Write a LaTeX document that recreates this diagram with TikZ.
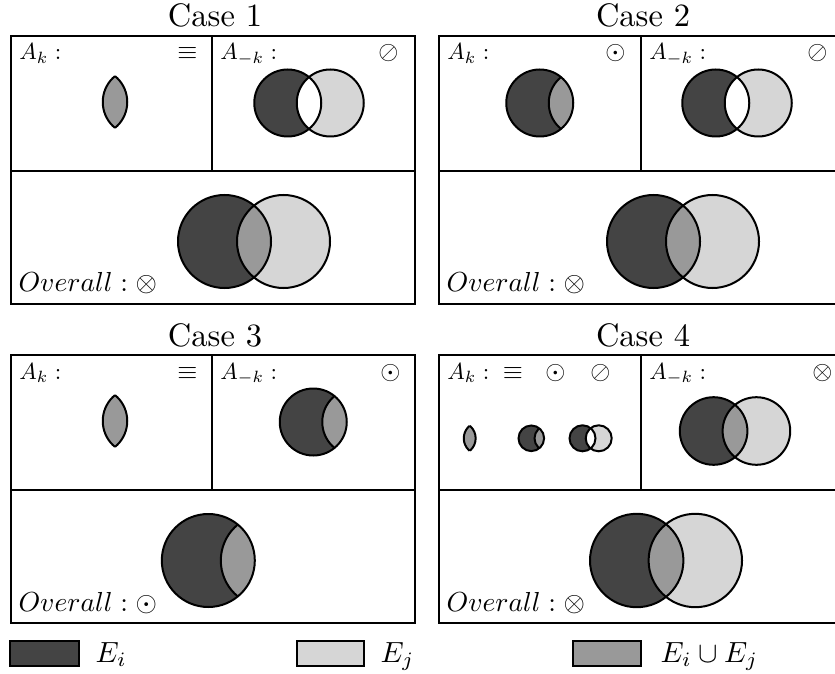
\documentclass[tikz,border=0pt]{standalone}
\definecolor{dk}{HTML}{444444}
\definecolor{lt}{HTML}{D6D6D6}
\definecolor{md}{HTML}{999999}
\tikzset{
  vl/.style={line width=1.2pt, draw=black},
  frame/.style={line width=1.2pt},
  divl/.style={line width=0.8pt},
  lbl/.style={inner sep=0pt, scale=1.4},
  sym/.style={inner sep=0pt, scale=1.55},
  ovl/.style={inner sep=0pt, scale=1.65},
  ttl/.style={inner sep=0pt, scale=1.95},
  leg/.style={inner sep=0pt, scale=1.75},
  legbox/.style={line width=1.1pt, draw=black},
}
% #1 midpoint x, #2 y, #3 radius (px), #4 centre distance (px)
\newcommand\vennfull[5]{%
  \begin{scope}
    \fill[dk] (#1-#4/2,#2) circle[radius=#3*0.6pt];
    \fill[lt] (#1+#4/2,#2) circle[radius=#3*0.6pt];
    \begin{scope}
      \clip (#1-#4/2,#2) circle[radius=#3*0.6pt];
      \fill[#5] (#1+#4/2,#2) circle[radius=#3*0.6pt];
    \end{scope}
    \draw[vl] (#1-#4/2,#2) circle[radius=#3*0.6pt];
    \draw[vl] (#1+#4/2,#2) circle[radius=#3*0.6pt];
  \end{scope}}
\newcommand\venndotted[4]{%
  \begin{scope}
    \fill[dk] (#1-#4/2,#2) circle[radius=#3*0.6pt];
    \begin{scope}
      \clip (#1-#4/2,#2) circle[radius=#3*0.6pt];
      \fill[md] (#1+#4/2,#2) circle[radius=#3*0.6pt];
      \draw[vl] (#1+#4/2,#2) circle[radius=#3*0.6pt];
    \end{scope}
    \draw[vl] (#1-#4/2,#2) circle[radius=#3*0.6pt];
  \end{scope}}
\newcommand\vennlens[4]{%
  \begin{scope}
    \begin{scope}
      \clip (#1-#4/2,#2) circle[radius=#3*0.6pt];
      \fill[md] (#1+#4/2,#2) circle[radius=#3*0.6pt];
      \draw[vl] (#1+#4/2,#2) circle[radius=#3*0.6pt];
    \end{scope}
    \begin{scope}
      \clip (#1+#4/2,#2) circle[radius=#3*0.6pt];
      \draw[vl] (#1-#4/2,#2) circle[radius=#3*0.6pt];
    \end{scope}
  \end{scope}}
\begin{document}
\begin{tikzpicture}[x=0.6pt,y=-0.6pt]
\useasboundingbox (0,0) rectangle (835,674);
\clip (0,0) rectangle (835,674);

% ---------- Case 1 ----------
\node[ttl, anchor=base] (t1) at (215,27) {Case 1};
\draw[frame] (11,36) rectangle (415,304);
\draw[divl] (11,171) -- (415,171);
\draw[divl] (212,36) -- (212,171);
\node[lbl, anchor=base west] (c1ak) at (19,60) {$A_k:$};
\node[sym, anchor=base east] (c1s1) at (198,60) {$\equiv$};
\node[lbl, anchor=base west] (c1amk) at (220,60) {$A_{-k}:$};
\node[sym, anchor=base east] (c1s2) at (399,60) {$\oslash$};
\node[ovl, anchor=base west] (c1ov) at (18,292) {$Overall:\otimes$};
\vennlens{115}{102}{33.5}{42.5}
\vennfull{309}{103}{33.5}{42.5}{white}
\vennfull{254}{241.5}{46.5}{59}{md}

% ---------- Case 2 ----------
\node[ttl, anchor=base] (t2) at (643,27) {Case 2};
\draw[frame] (439,36) rectangle (843,304);
\draw[divl] (439,171) -- (843,171);
\draw[divl] (641,36) -- (641,171);
\node[lbl, anchor=base west] (c2ak) at (447,60) {$A_k:$};
\node[sym, anchor=base east] (c2s1) at (626,60) {$\odot$};
\node[lbl, anchor=base west] (c2amk) at (649,60) {$A_{-k}:$};
\node[sym, anchor=base east] (c2s2) at (828,60) {$\oslash$};
\node[ovl, anchor=base west] (c2ov) at (446,292) {$Overall:\otimes$};
\venndotted{561}{103}{33.5}{42.5}
\vennfull{737}{103}{33.5}{42.5}{white}
\vennfull{683}{241.5}{46.5}{59}{md}

% ---------- Case 3 ----------
\node[ttl, anchor=base] (t3) at (215,346) {Case 3};
\draw[frame] (11,355) rectangle (415,623);
\draw[divl] (11,490) -- (415,490);
\draw[divl] (212,355) -- (212,490);
\node[lbl, anchor=base west] (c3ak) at (19,379) {$A_k:$};
\node[sym, anchor=base east] (c3s1) at (198,379) {$\equiv$};
\node[lbl, anchor=base west] (c3amk) at (220,379) {$A_{-k}:$};
\node[sym, anchor=base east] (c3s2) at (401,379) {$\odot$};
\node[ovl, anchor=base west] (c3ov) at (18,611) {$Overall:\odot$};
\vennlens{115}{421}{33.5}{42.5}
\venndotted{334.5}{422}{33.5}{42.5}
\venndotted{237.8}{560.5}{46.5}{59}

% ---------- Case 4 ----------
\node[ttl, anchor=base] (t4) at (643,346) {Case 4};
\draw[frame] (439,355) rectangle (843,623);
\draw[divl] (439,490) -- (843,490);
\draw[divl] (641,355) -- (641,490);
\node[lbl, anchor=base west] (c4ak) at (447,379) {$A_k:$};
\node[sym, anchor=base] (c4a) at (513,379) {$\equiv$};
\node[sym, anchor=base] (c4b) at (555.5,379) {$\odot$};
\node[sym, anchor=base] (c4c) at (600.5,379) {$\oslash$};
\node[lbl, anchor=base west] (c4amk) at (649,379) {$A_{-k}:$};
\node[sym, anchor=base east] (c4s2) at (833,379) {$\otimes$};
\node[ovl, anchor=base west] (c4ov) at (446,611) {$Overall:\otimes$};
\vennlens{469.7}{438.3}{16.3}{20.7}
\venndotted{539.3}{438.3}{12.8}{16}
\vennfull{590.6}{438.3}{13}{16.2}{white}
\vennfull{735}{431}{33.8}{42.8}{md}
\vennfull{666}{560.5}{46.7}{58.6}{md}

% ---------- Legend ----------
\draw[legbox, fill=dk] (9.6,641) rectangle (79,666);
\node[leg, anchor=base west] (l1) at (95,662) {$E_i$};
\draw[legbox, fill=lt] (297,641) rectangle (364,666);
\node[leg, anchor=base west] (l2) at (380,662) {$E_j$};
\draw[legbox, fill=md] (573,641) rectangle (641,666);
\node[leg, anchor=base west] (l3) at (660,662) {$E_i\cup E_j$};
\end{tikzpicture}
\end{document}
